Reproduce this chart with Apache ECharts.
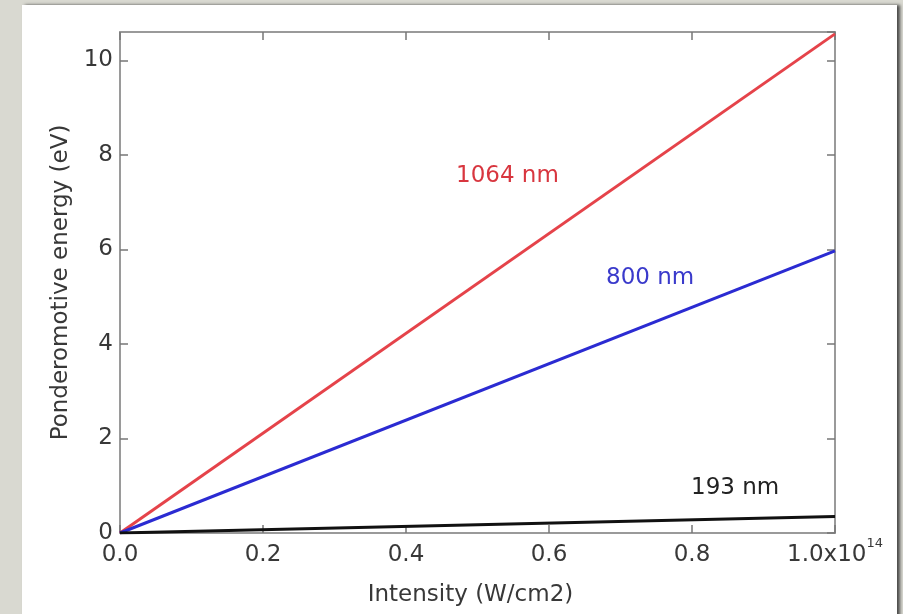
<!DOCTYPE html>
<html>
<head>
<meta charset="utf-8">
<script src="https://cdn.jsdelivr.net/npm/echarts@6/dist/echarts.min.js"></script>
<style>
  html, body { margin: 0; padding: 0; }
  body { width: 903px; height: 614px; background: #d9d9d1; position: relative; overflow: hidden; }
  .panel { position: absolute; left: 22px; top: 5px; width: 875px; height: 620px; background: #fff;
           box-shadow: 3px 0 3px rgba(40,40,40,0.8); }
  #chart { position: absolute; left: 0; top: 0; width: 903px; height: 614px; }
</style>
</head>
<body>
<div class="panel"></div>
<div id="chart"></div>
<script>
// intensity in units of 1e14 W/cm2
var intensity = [0, 1.0]
var energy1064 = [0, 10.56]
var energy800 = [0, 5.97]
var energy193 = [0, 0.35]
var xTickLabels = ['0.0', '0.2', '0.4', '0.6', '0.8', '1.0x10']
var seriesNames = ['1064 nm', '800 nm', '193 nm']

var FONT = '"DejaVu Sans", Verdana, sans-serif'
var TEXT = '#383838'
var AXIS_GREY = '#9a9a9a'

function pairs(xs, ys) {
  var out = []
  for (var i = 0; i < xs.length; i++) out.push([xs[i], ys[i]])
  return out
}

// shared bits for the 4 sides of the box
var boxLine = { onZero: false, lineStyle: { color: AXIS_GREY, width: 2 } }
var boxTick = { inside: true, length: 8, lineStyle: { color: '#777', width: 1.5 } }

var chart = echarts.init(document.getElementById('chart'))
chart.setOption({
  animation: false,
  backgroundColor: 'transparent',
  grid: { left: 120, right: 68, top: 32, bottom: 81 },
  xAxis: [
    {
      type: 'value',
      min: 0,
      max: 1.0,
      interval: 0.2,
      position: 'bottom',
      name: 'Intensity (W/cm2)',
      nameLocation: 'middle',
      nameGap: 51,
      nameTextStyle: { fontFamily: FONT, fontSize: 23, color: TEXT, padding: [0, 14, 0, 0] },
      axisLine: boxLine,
      axisTick: boxTick,
      splitLine: { show: false },
      axisLabel: {
        margin: 4,
        formatter: function (v) {
          var idx = Math.round(v / 0.2)
          // last tick carries the x10^14 exponent
          if (idx === xTickLabels.length - 1) return '{a|' + xTickLabels[idx] + '}{s|14}'
          return '{a|' + xTickLabels[idx] + '}'
        },
        rich: {
          a: { fontFamily: FONT, fontSize: 23, color: TEXT, lineHeight: 36 },
          s: { fontFamily: FONT, fontSize: 13, color: TEXT, padding: [0, 0, 22, 0] }
        }
      }
    },
    {
      type: 'value',
      min: 0,
      max: 1.0,
      interval: 0.2,
      position: 'top',
      axisLine: boxLine,
      axisTick: boxTick,
      axisLabel: { show: false },
      splitLine: { show: false }
    }
  ],
  yAxis: [
    {
      type: 'value',
      min: 0,
      max: 10.6,
      interval: 2,
      position: 'left',
      name: 'Ponderomotive energy (eV)',
      nameLocation: 'middle',
      nameGap: 39,
      nameTextStyle: { fontFamily: FONT, fontSize: 23, color: TEXT },
      axisLine: boxLine,
      axisTick: boxTick,
      splitLine: { show: false },
      axisLabel: { margin: 7, fontFamily: FONT, fontSize: 23, color: TEXT, showMaxLabel: false }
    },
    {
      type: 'value',
      min: 0,
      max: 10.6,
      interval: 2,
      position: 'right',
      axisLine: boxLine,
      axisTick: boxTick,
      axisLabel: { show: false },
      splitLine: { show: false }
    }
  ],
  series: [
    {
      name: seriesNames[0], type: 'line', showSymbol: false,
      data: pairs(intensity, energy1064),
      lineStyle: { color: '#e5434a', width: 3 }
    },
    {
      name: seriesNames[1], type: 'line', showSymbol: false,
      data: pairs(intensity, energy800),
      lineStyle: { color: '#2b2bd2', width: 3 }
    },
    {
      name: seriesNames[2], type: 'line', showSymbol: false,
      data: pairs(intensity, energy193),
      lineStyle: { color: '#111', width: 3 }
    }
  ],
  graphic: [
    { type: 'text', x: 456, y: 176, style: { text: seriesNames[0], fill: '#d8363f', font: '23px ' + FONT, verticalAlign: 'middle' } },
    { type: 'text', x: 606, y: 278, style: { text: seriesNames[1], fill: '#3a3acb', font: '23px ' + FONT, verticalAlign: 'middle' } },
    { type: 'text', x: 691, y: 488, style: { text: seriesNames[2], fill: '#222', font: '23px ' + FONT, verticalAlign: 'middle' } }
  ]
})
</script>
</body>
</html>
